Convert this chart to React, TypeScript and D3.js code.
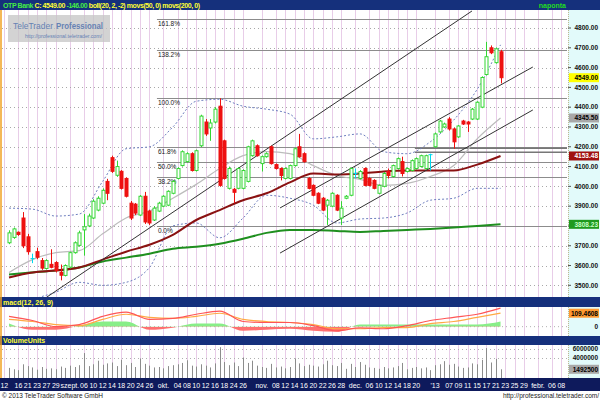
import React from 'react';
import * as d3 from 'd3';

// trading calendar (Budapest, no trading on these weekdays)
const holidays = [
  '2012-08-20', '2012-10-22', '2012-10-23', '2012-11-01', '2012-11-02',
  '2012-12-24', '2012-12-25', '2012-12-26', '2012-12-31', '2013-01-01',
];
const calendarStart = '2012-08-13';
const firstCandle = '2012-08-14';

const dateTicks: [string, string][] = [
  ['2012-08-13', '12'], ['2012-08-16', '16'], ['2012-08-21', '21'], ['2012-08-23', '23'], ['2012-08-27', '27'], ['2012-08-29', '29'],
  ['2012-09-03', 'szept.'], ['2012-09-06', '06'], ['2012-09-10', '10'], ['2012-09-12', '12'], ['2012-09-14', '14'], ['2012-09-18', '18'],
  ['2012-09-20', '20'], ['2012-09-24', '24'], ['2012-09-26', '26'],
  ['2012-10-01', 'okt.'], ['2012-10-04', '04'], ['2012-10-08', '08'], ['2012-10-10', '10'], ['2012-10-12', '12'], ['2012-10-16', '16'],
  ['2012-10-18', '18'], ['2012-10-24', '24'], ['2012-10-26', '26'],
  ['2012-11-05', 'nov.'], ['2012-11-08', '08'], ['2012-11-12', '12'], ['2012-11-14', '14'], ['2012-11-16', '16'], ['2012-11-20', '20'],
  ['2012-11-22', '22'], ['2012-11-26', '26'], ['2012-11-28', '28'],
  ['2012-12-03', 'dec.'], ['2012-12-06', '06'], ['2012-12-10', '10'], ['2012-12-12', '12'], ['2012-12-14', '14'], ['2012-12-18', '18'], ['2012-12-20', '20'],
  ['2013-01-02', "'13"], ['2013-01-07', '07'], ['2013-01-09', '09'], ['2013-01-11', '11'], ['2013-01-15', '15'], ['2013-01-17', '17'],
  ['2013-01-21', '21'], ['2013-01-23', '23'], ['2013-01-25', '25'], ['2013-01-29', '29'],
  ['2013-02-01', 'febr.'], ['2013-02-06', '06'], ['2013-02-08', '08'],
];

// daily OHLC, OTP Bank
const candles: [number, number, number, number][] = [
  [3715, 3778, 3708, 3765], [3742, 3792, 3735, 3785], [3768, 3772, 3750, 3757], [3840, 3870, 3688, 3700], [3745, 3760, 3655, 3670],
  [3635, 3660, 3612, 3635], [3670, 3690, 3632, 3642], [3625, 3638, 3578, 3587], [3585, 3632, 3580, 3625], [3606, 3682, 3586, 3591],
  [3615, 3622, 3565, 3576], [3566, 3605, 3525, 3551], [3550, 3606, 3545, 3600], [3592, 3670, 3585, 3665], [3665, 3722, 3660, 3715],
  [3702, 3776, 3695, 3765], [3780, 3860, 3650, 3796], [3800, 3862, 3794, 3850], [3840, 3935, 3835, 3925], [3880, 3950, 3874, 3940],
  [3915, 3990, 3910, 3980], [4025, 4038, 3930, 3965], [4145, 4155, 4068, 4076], [4056, 4130, 4048, 4100], [4076, 4082, 3984, 3990],
  [4040, 4046, 3944, 3950], [3915, 3926, 3830, 3840], [3910, 3916, 3855, 3865], [3855, 3956, 3850, 3950], [3950, 3972, 3810, 3820],
  [3875, 3882, 3805, 3815], [3830, 3900, 3825, 3890], [3875, 3922, 3870, 3915], [3900, 3955, 3895, 3950], [3905, 3980, 3900, 3975],
  [3965, 4032, 3960, 4025], [4040, 4096, 4035, 4090], [4105, 4182, 4100, 4175], [4125, 4172, 4120, 4165], [4165, 4172, 4075, 4080],
  [4080, 4186, 4075, 4180], [4205, 4362, 4198, 4355], [4325, 4340, 4255, 4265], [4295, 4340, 4230, 4320], [4325, 4400, 4318, 4390],
  [4405, 4445, 3998, 4005], [4230, 4236, 4034, 4040], [3990, 4100, 3984, 4090], [3985, 3992, 3915, 3970], [3990, 4096, 3985, 4090],
  [3990, 4086, 3985, 4080], [4025, 4205, 4020, 4200], [4155, 4236, 4150, 4230], [4205, 4212, 4150, 4155], [4115, 4156, 4075, 4150],
  [4150, 4172, 4145, 4165], [4200, 4206, 4110, 4115], [4110, 4116, 4085, 4090], [4090, 4096, 4030, 4055], [4040, 4096, 4035, 4090],
  [4040, 4110, 4035, 4105], [4105, 4196, 4100, 4190], [4200, 4265, 4145, 4150], [4165, 4172, 4120, 4125], [4040, 4046, 3985, 3990],
  [4005, 4010, 3950, 3955], [3965, 3970, 3910, 3915], [3940, 3946, 3875, 3880], [3905, 3936, 3805, 3930], [3900, 3970, 3895, 3965],
  [3955, 3960, 3875, 3880], [3840, 3925, 3805, 3890], [3940, 3956, 3935, 3950], [3955, 4096, 3950, 4090], [4065, 4090, 4040, 4065],
  [4040, 4082, 4035, 4075], [4090, 4096, 4000, 4005], [4040, 4046, 4000, 4005], [4030, 4036, 3985, 3990], [3965, 4010, 3960, 4005],
  [4000, 4072, 3995, 4065], [4075, 4090, 4040, 4055], [4050, 4110, 4045, 4105], [4090, 4146, 4085, 4140], [4125, 4150, 4050, 4065],
  [4075, 4096, 4070, 4090], [4080, 4136, 4075, 4130], [4090, 4146, 4085, 4140], [4100, 4160, 4095, 4155], [4090, 4160, 4085, 4155],
  [4160, 4165, 4080, 4160], [4200, 4272, 4195, 4265], [4275, 4336, 4270, 4330], [4300, 4322, 4295, 4315], [4340, 4350, 4282, 4290],
  [4290, 4296, 4190, 4225], [4250, 4310, 4245, 4305], [4330, 4336, 4310, 4315], [4325, 4330, 4275, 4315], [4340, 4396, 4335, 4390],
  [4340, 4430, 4335, 4425], [4400, 4556, 4395, 4550], [4565, 4730, 4560, 4655], [4700, 4712, 4668, 4675], [4625, 4702, 4620, 4695],
  [4680, 4690, 4520, 4549],
];

// volume in millions of units
const volumes = [
  1.8, 1.5, 1.3, 2.6, 2.2, 1.9, 1.4, 2.0, 1.6, 1.7,
  1.5, 2.1, 1.8, 2.3, 2.0, 2.4, 5.1, 2.2, 2.6, 3.4,
  2.5, 2.8, 3.0, 2.2, 3.6, 2.4, 2.9, 2.0, 3.9, 2.7,
  2.3, 1.9, 2.0, 1.7, 2.2, 2.4, 2.6, 2.9, 3.5, 2.3,
  2.1, 2.6, 2.3, 1.9, 2.8, 6.4, 3.1, 2.4, 3.0, 2.2,
  4.1, 2.9, 3.4, 2.3, 2.0, 1.8, 2.7, 1.9, 2.1, 1.7,
  2.0, 3.9, 2.8, 2.2, 2.5, 2.3, 2.1, 2.6, 3.4, 2.4,
  2.2, 2.9, 1.6, 2.7, 2.0, 3.1, 2.5, 1.9, 1.8, 1.6,
  2.0, 1.7, 1.9, 2.2, 2.9, 1.5, 1.8, 2.0, 1.7, 1.9,
  1.3, 2.4, 2.6, 3.3, 2.5, 2.7, 2.1, 1.8, 1.9, 2.8,
  2.6, 3.6, 6.2, 3.0, 3.8, 1.4925,
];

// indicator readings, one every 5th candle
const sampleStep = 5;
const ma200 = [3555, 3565, 3575, 3590, 3620, 3640, 3660, 3685, 3695, 3710, 3735, 3765, 3780, 3780, 3775, 3770, 3775, 3780, 3785, 3792, 3800, 3808.23];
const ma50 = [3540, 3565, 3575, 3590, 3630, 3670, 3705, 3755, 3830, 3880, 3930, 3965, 4020, 4065, 4060, 4065, 4075, 4080, 4080, 4080, 4110, 4153.48];
const bollMid = [3565, 3630, 3665, 3675, 3760, 3840, 3875, 3940, 4010, 4090, 4155, 4175, 4165, 4105, 4055, 4035, 4005, 4015, 4050, 4105, 4240, 4345.5];
const bollUp = [3890, 3885, 3850, 3860, 4025, 4190, 4200, 4300, 4430, 4440, 4405, 4390, 4365, 4240, 4250, 4265, 4175, 4165, 4225, 4335, 4490, 4715];
const bollLow = [3300, 3420, 3465, 3515, 3500, 3515, 3590, 3800, 3815, 3740, 3840, 3955, 3940, 3905, 3815, 3835, 3840, 3865, 3930, 3940, 3990, 3990];
const macdLine = [84, 50, 0, 17, 84, 118, 59, 67, 101, 126, 42, 34, 34, 8, -34, -10, -17, 8, 50, 76, 101, 151];
const macdSignal = [59, 42, 17, 8, 59, 101, 76, 67, 84, 109, 59, 42, 34, 17, -17, -17, -8, -8, 25, 42, 76, 109.4608];
const macdHist = [25, -25, -25, 8, 42, 42, -25, -8, 25, 25, -34, -25, -17, -34, -42, 17, 17, 17, 17, 17, 17, 42];

// drawn objects: [calendar index, price] pairs
const trendLines: [number, number][][] = [
  [[9.1, 3441], [99.9, 4886]],
  [[58.9, 3891], [112.9, 4603]],
  [[58.9, 3663], [112.9, 4386]],
];
const fibLow = 3800;
const fibHigh = 4445;
const fibRatios = [1.618, 1.382, 1.0, 0.618, 0.5, 0.382, 0.0];
const fibLabels = ['161.8%', '138.2%', '100.0%', '61.8%', '50.0%', '38.2%', '0.0%'];
const fibStart = 32.6;
const levelLines = [4192, 4172];
const levelStart = 87.7;

const priceTicks = [3500, 3600, 3700, 3800, 3900, 4000, 4100, 4200, 4300, 4400, 4500, 4600, 4700, 4800];
const volumeTicks = [6, 4];

const FONT = 'Liberation Sans, Arial, sans-serif';
const NAVY = '#15307c';
const AXIS_BG = '#e2fafa';
const UP = '#33d633';
const DOWN = '#ee1111';
const FLAT = '#00d8f0';

function buildCalendar() {
  const days: string[] = [];
  const d = new Date(calendarStart + 'T00:00:00Z');
  while (days.length < 125) {
    const iso = d.toISOString().slice(0, 10);
    const wd = d.getUTCDay();
    if (wd !== 0 && wd !== 6 && !holidays.includes(iso)) days.push(iso);
    d.setUTCDate(d.getUTCDate() + 1);
  }
  return days;
}

export default function App() {
  const W = 600, H = 400;
  const plotL = 2, plotR = 567, axisX = 568;
  const mainTop = 10, mainBot = 297;
  const macdTop = 307, macdBot = 336;
  const volTop = 345, volBot = 378;

  const days = buildCalendar();
  const dayIndex = new Map(days.map((d, i) => [d, i]));
  const c0 = dayIndex.get(firstCandle) as number;

  const x = d3.scaleLinear().domain([-0.5, 120.2]).range([plotL, plotR]);
  const y = d3.scaleLinear().domain([3441, 4891]).range([mainBot, mainTop]);
  const ym = d3.scaleLinear().domain([-76, 160]).range([macdBot, macdTop]);
  const yv = d3.scaleLinear().domain([0, 6.89]).range([376, volTop]);

  const sx = (j: number) => x(c0 + j * sampleStep);
  const priceLine = d3.line<number>().x((_, j) => sx(j)).y(v => y(v)).curve(d3.curveMonotoneX);
  const macdPath = d3.line<number>().x((_, j) => sx(j)).y(v => ym(v)).curve(d3.curveMonotoneX);
  const histArea = d3.area<number>().x((_, j) => sx(j)).y0(ym(0)).y1(v => ym(v)).curve(d3.curveMonotoneX);
  const trendPath = d3.line<[number, number]>().x(d => x(d[0])).y(d => y(d[1]));

  const tickX = dateTicks.map(([d]) => x(dayIndex.get(d) as number));

  const vGrid = (top: number, bot: number) =>
    tickX.map((tx, i) => (
      <line key={i} x1={Math.round(tx) + 0.5} x2={Math.round(tx) + 0.5} y1={top} y2={bot} stroke="#e8cde8" strokeWidth={1} />
    ));

  // last values shown in coloured boxes on the price axis
  const boxes: [string, number, string, string][] = [
    ['4549.00', candles[candles.length - 1][3], '#ffff00', '#000'],
    ['4345.50', bollMid[bollMid.length - 1], '#a8a8a8', '#000'],
    ['4153.48', ma50[ma50.length - 1], '#a01010', '#ffffff'],
    ['3808.23', ma200[ma200.length - 1], '#1f9a1f', '#c8ffc8'],
  ];
  const hidden = (p: number) => boxes.some(b => Math.abs(y(b[1]) - y(p)) < 8);

  const label = (val: string, yy: number, bg: string, fg: string, key: string) => (
    <g key={key}>
      <rect x={569} y={yy - 4.5} width={30} height={9} fill={bg} />
      <text x={598} y={yy + 2.3} textAnchor="end" fontSize={6.5} fontWeight="bold" fill={fg} fontFamily={FONT}>{val}</text>
    </g>
  );

  return (
    <svg width={W} height={H} style={{ position: 'absolute', left: 0, top: 0 }} fontFamily={FONT}>
      <defs>
        <clipPath id="mainClip"><rect x={plotL} y={mainTop} width={plotR - plotL} height={mainBot - mainTop} /></clipPath>
        <clipPath id="macdClip"><rect x={plotL} y={macdTop} width={plotR - plotL} height={macdBot - macdTop} /></clipPath>
        <clipPath id="histPos"><rect x={plotL} y={macdTop} width={plotR - plotL} height={ym(0) - macdTop} /></clipPath>
        <clipPath id="histNeg"><rect x={plotL} y={ym(0)} width={plotR - plotL} height={macdBot - ym(0)} /></clipPath>
      </defs>
      <rect x={0} y={0} width={W} height={H} fill="#ffffff" />

      {/* main price panel */}
      <rect x={axisX} y={mainTop} width={W - axisX} height={mainBot - mainTop} fill={AXIS_BG} />
      <g>{vGrid(mainTop, mainBot)}</g>
      {priceTicks.map(p => (
        <line key={p} x1={plotL} x2={plotR} y1={Math.round(y(p)) + 0.5} y2={Math.round(y(p)) + 0.5} stroke="#a8a8a8" strokeDasharray="1,3" />
      ))}

      <g clipPath="url(#mainClip)">
        {fibRatios.map((r, i) => {
          const yy = Math.round(y(fibLow + r * (fibHigh - fibLow))) + 0.5;
          return (
            <g key={i}>
              <line x1={x(fibStart)} x2={plotR} y1={yy} y2={yy} stroke="#8c8c8c" />
              <text x={x(fibStart) + 1} y={yy + 6} fontSize={6.5} fill="#202020">{fibLabels[i]}</text>
            </g>
          );
        })}
        {levelLines.map(p => (
          <line key={p} x1={x(levelStart)} x2={plotR} y1={y(p)} y2={y(p)} stroke="#777" strokeWidth={1.5} />
        ))}

        <path d={priceLine(bollUp) || ''} fill="none" stroke="#6f7fbf" strokeDasharray="2,2" />
        <path d={priceLine(bollLow) || ''} fill="none" stroke="#6f7fbf" strokeDasharray="2,2" />
        <path d={priceLine(bollMid) || ''} fill="none" stroke="#bcbcbc" strokeWidth={1.2} />
        <path d={priceLine(ma200) || ''} fill="none" stroke="#1f8f1f" strokeWidth={2} />
        <path d={priceLine(ma50) || ''} fill="none" stroke="#8a1212" strokeWidth={2} />

        {trendLines.map((t, i) => (
          <path key={i} d={trendPath(t) || ''} fill="none" stroke="#333" strokeWidth={1} />
        ))}

        {candles.map(([o, h, l, c], i) => {
          const cx = Math.round(x(c0 + i)) + 0.5;
          const col = c > o ? UP : c < o ? DOWN : FLAT;
          const top = y(Math.max(o, c));
          const bh = Math.max(1, y(Math.min(o, c)) - top);
          return (
            <g key={i}>
              <line x1={cx} x2={cx} y1={y(h)} y2={y(l)} stroke={col} />
              {c === o ? (
                <line x1={cx - 2} x2={cx + 2} y1={top} y2={top} stroke={col} />
              ) : (
                <rect x={cx - 1.5} y={top} width={3} height={bh} fill={c > o ? '#ffffff' : col} stroke={col} />
              )}
            </g>
          );
        })}
      </g>

      <line x1={axisX + 0.5} x2={axisX + 0.5} y1={mainTop} y2={mainBot} stroke="#c0b890" strokeDasharray="1,1" />
      {priceTicks.map(p => (
        <g key={p}>
          <line x1={axisX} x2={axisX + 3} y1={y(p)} y2={y(p)} stroke="#555" />
          {!hidden(p) && (
            <text x={598} y={y(p) + 2.3} textAnchor="end" fontSize={6.5} fontWeight="bold" fill="#111">{p.toFixed(2)}</text>
          )}
        </g>
      ))}
      {boxes.map(([t, v, bg, fg]) => label(t, y(v), bg, fg, t))}

      {/* watermark */}
      <rect x={8} y={15} width={102} height={27} fill="#c4c4c4" opacity={0.75} />
      <text x={13} y={29} fontSize={9.5} fill="#6682b4" textLength={40} lengthAdjust="spacingAndGlyphs">TeleTrader</text>
      <text x={56} y={29} fontSize={9.5} fontWeight="bold" fill="#6682b4" textLength={47} lengthAdjust="spacingAndGlyphs">Professional</text>
      <text x={25} y={37.5} fontSize={5.5} fill="#6682b4" textLength={77} lengthAdjust="spacingAndGlyphs">http://professional.teletrader.com/</text>

      {/* title bar */}
      <rect x={0} y={0} width={W} height={mainTop} fill={NAVY} />
      <text x={3} y={7.6} fontSize={7} fontWeight="bold" letterSpacing={-0.42}>
        <tspan fill="#44ee44">OTP Bank </tspan>
        <tspan fill="#ffff33">C: 4549.00 </tspan>
        <tspan fill="#44ee44">-146.00 </tspan>
        <tspan fill="#ffff33">boll(20, 2, -2) movs(50, 0) movs(200, 0)</tspan>
      </text>
      <text x={566} y={7.6} textAnchor="end" fontSize={7} fontWeight="bold" fill="#22dd22">naponta</text>

      {/* macd panel */}
      <rect x={0} y={mainBot} width={W} height={macdTop - mainBot} fill={NAVY} />
      <text x={3} y={304.5} fontSize={7} fontWeight="bold" fill="#ffff33">macd(12, 26, 9)</text>
      <rect x={axisX} y={macdTop} width={W - axisX} height={macdBot - macdTop} fill={AXIS_BG} />
      <g>{vGrid(macdTop, macdBot)}</g>
      <line x1={plotL} x2={plotR} y1={ym(0)} y2={ym(0)} stroke="#b0b0b0" strokeDasharray="1,3" />
      <g clipPath="url(#macdClip)">
        <path d={histArea(macdHist) || ''} fill="#88ee88" clipPath="url(#histPos)" />
        <path d={histArea(macdHist) || ''} fill="#ff7070" clipPath="url(#histNeg)" />
        <path d={macdPath(macdSignal) || ''} fill="none" stroke="#ffaa44" strokeWidth={1.2} />
        <path d={macdPath(macdLine) || ''} fill="none" stroke="#ff5555" strokeWidth={1.2} />
      </g>
      <line x1={axisX + 0.5} x2={axisX + 0.5} y1={macdTop} y2={macdBot} stroke="#c0b890" strokeDasharray="1,1" />
      <text x={598} y={ym(0) + 2.3} textAnchor="end" fontSize={6.5} fontWeight="bold" fill="#111">0</text>
      {label('109.4608', ym(macdSignal[macdSignal.length - 1]), '#ff9a30', '#000', 'sig')}

      {/* volume panel */}
      <rect x={0} y={macdBot} width={W} height={volTop - macdBot} fill={NAVY} />
      <text x={3} y={343} fontSize={7} fontWeight="bold" fill="#ffff33">VolumeUnits</text>
      <rect x={axisX} y={volTop} width={W - axisX} height={volBot - volTop} fill={AXIS_BG} />
      <g>{vGrid(volTop, volBot)}</g>
      {volumeTicks.map(v => (
        <line key={v} x1={plotL} x2={plotR} y1={Math.round(yv(v)) + 0.5} y2={Math.round(yv(v)) + 0.5} stroke="#b0b0b0" strokeDasharray="1,3" />
      ))}
      {volumes.map((v, i) => {
        const cx = Math.round(x(c0 + i)) + 0.5;
        return <line key={i} x1={cx} x2={cx} y1={volBot} y2={yv(v)} stroke="#8c8c8c" />;
      })}
      <line x1={axisX + 0.5} x2={axisX + 0.5} y1={volTop} y2={volBot} stroke="#c0b890" strokeDasharray="1,1" />
      {volumeTicks.map(v => (
        <text key={v} x={598} y={yv(v) + 2.3} textAnchor="end" fontSize={6.5} fontWeight="bold" fill="#111">{(v * 1e6).toFixed(0)}</text>
      ))}
      {label('1492500', yv(volumes[volumes.length - 1]), '#a8a8a8', '#000', 'vol')}

      {/* date axis */}
      <rect x={0} y={volBot} width={W} height={13} fill="#0e1a5c" />
      {dateTicks.map(([, t], i) => (
        <text key={i} x={tickX[i]} y={387.5} textAnchor="middle" fontSize={7} fill="#ffffff">{t}</text>
      ))}
      <line x1={1} x2={1} y1={mainTop} y2={volBot} stroke="#f0a020" strokeWidth={1.5} />

      {/* footer */}
      <text x={2} y={397.5} fontSize={7.5} fill="#222" textLength={101} lengthAdjust="spacingAndGlyphs">© 2013 TeleTrader Software GmbH</text>
      <text x={599} y={398} textAnchor="end" fontSize={6.5} fill="#222">http://professional.teletrader.com/</text>
    </svg>
  );
}
